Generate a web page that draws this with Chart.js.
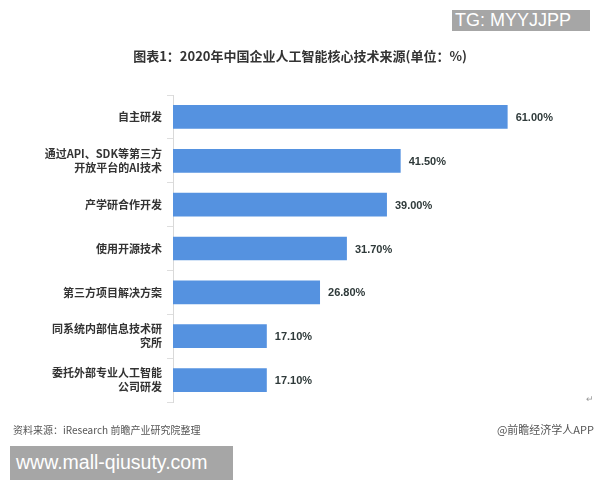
<!DOCTYPE html>
<html>
<head>
<meta charset="utf-8">
<script src="https://cdn.jsdelivr.net/npm/chart.js@4"></script>
<style>
  html, body { margin: 0; padding: 0; background: #fff; }
  #wrap { position: relative; width: 600px; height: 480px; overflow: hidden; }
  #wrap canvas { position: absolute; left: 0; top: 0; }
  .txt { position: absolute; white-space: nowrap; font-family: "Noto Sans CJK SC", "Liberation Sans", sans-serif; }
  #title { left: 0; width: 600px; top: 46px; text-align: center; font-size: 13px; font-weight: bold; color: #333; }
  #source { left: 13px; top: 422px; font-size: 10px; color: #555; }
  #brand { right: 6px; top: 421px; font-size: 11px; color: #555; }
  #tg { left: 452px; top: 10px; width: 138px; height: 21px; background: #a6a6a6; color: #fff; font-family: "Liberation Sans", sans-serif; font-size: 18px; line-height: 21px; padding-left: 3px; box-sizing: border-box; }
  #site { left: 10px; top: 446px; width: 223px; height: 34px; background: #a6a6a6; color: #fff; font-family: "Liberation Sans", sans-serif; font-size: 19.5px; line-height: 32px; padding-left: 6px; box-sizing: border-box; }
  #ret { left: 586px; top: 392px; font-size: 9px; color: #999; }
</style>
</head>
<body>
<div id="wrap">
  <canvas id="barChart" width="600" height="480"></canvas>
  <div class="txt" id="title">图表1：2020年中国企业人工智能核心技术来源(单位：%)</div>
  <div class="txt" id="source">资料来源：iResearch 前瞻产业研究院整理</div>
  <div class="txt" id="brand">@前瞻经济学人APP</div>
  <div class="txt" id="ret">↵</div>
  <div class="txt" id="tg">TG: MYYJJPP</div>
  <div class="txt" id="site">www.mall-qiusuty.com</div>
</div>
<script>
// 数据
const categories = [
    ['自主研发'],
    ['通过API、SDK等第三方', '开放平台的AI技术'],
    ['产学研合作开发'],
    ['使用开源技术'],
    ['第三方项目解决方案'],
    ['同系统内部信息技术研', '究所'],
    ['委托外部专业人工智能', '公司研发']
];
const values = [61.0, 41.5, 39.0, 31.7, 26.8, 17.1, 17.1];

// 数值标签
const valueLabels = {
    id: 'valueLabels',
    afterDatasetsDraw(chart) {
        const ctx = chart.ctx;
        const meta = chart.getDatasetMeta(0);
        ctx.save();
        ctx.font = 'bold 11px "Liberation Sans", Arial, sans-serif';
        ctx.fillStyle = '#2f3a3a';
        ctx.textAlign = 'left';
        ctx.textBaseline = 'middle';
        meta.data.forEach((bar, i) => {
            ctx.fillText(values[i].toFixed(2) + '%', bar.x + 8, bar.y + 1);
        });
        ctx.restore();
    }
};

const ctx = document.getElementById('barChart').getContext('2d');
const barChart = new Chart(ctx, {
    type: 'bar',
    data: {
        labels: categories,
        datasets: [{
            data: values,
            backgroundColor: '#5592e0',
            borderWidth: 0,
            barPercentage: 0.54,
            categoryPercentage: 1
        }]
    },
    options: {
        indexAxis: 'y',
        responsive: false,
        animation: false,
        layout: { padding: { top: 95, bottom: 78, left: 0, right: 43 } },
        plugins: {
            legend: { display: false },
            tooltip: { enabled: false }
        },
        scales: {
            x: { display: false, min: 0, max: 70 },
            y: {
                afterFit(scale) { scale.width = 173; },
                border: { display: true, color: '#d9d9d9' },
                grid: { drawOnChartArea: false, color: '#dedede', tickLength: 6 },
                ticks: {
                    padding: 5,
                    color: '#333',
                    font: { family: '"Noto Sans CJK SC", sans-serif', size: 11, weight: 'bold', lineHeight: 1.27 }
                }
            }
        }
    },
    plugins: [valueLabels]
});
</script>
</body>
</html>
